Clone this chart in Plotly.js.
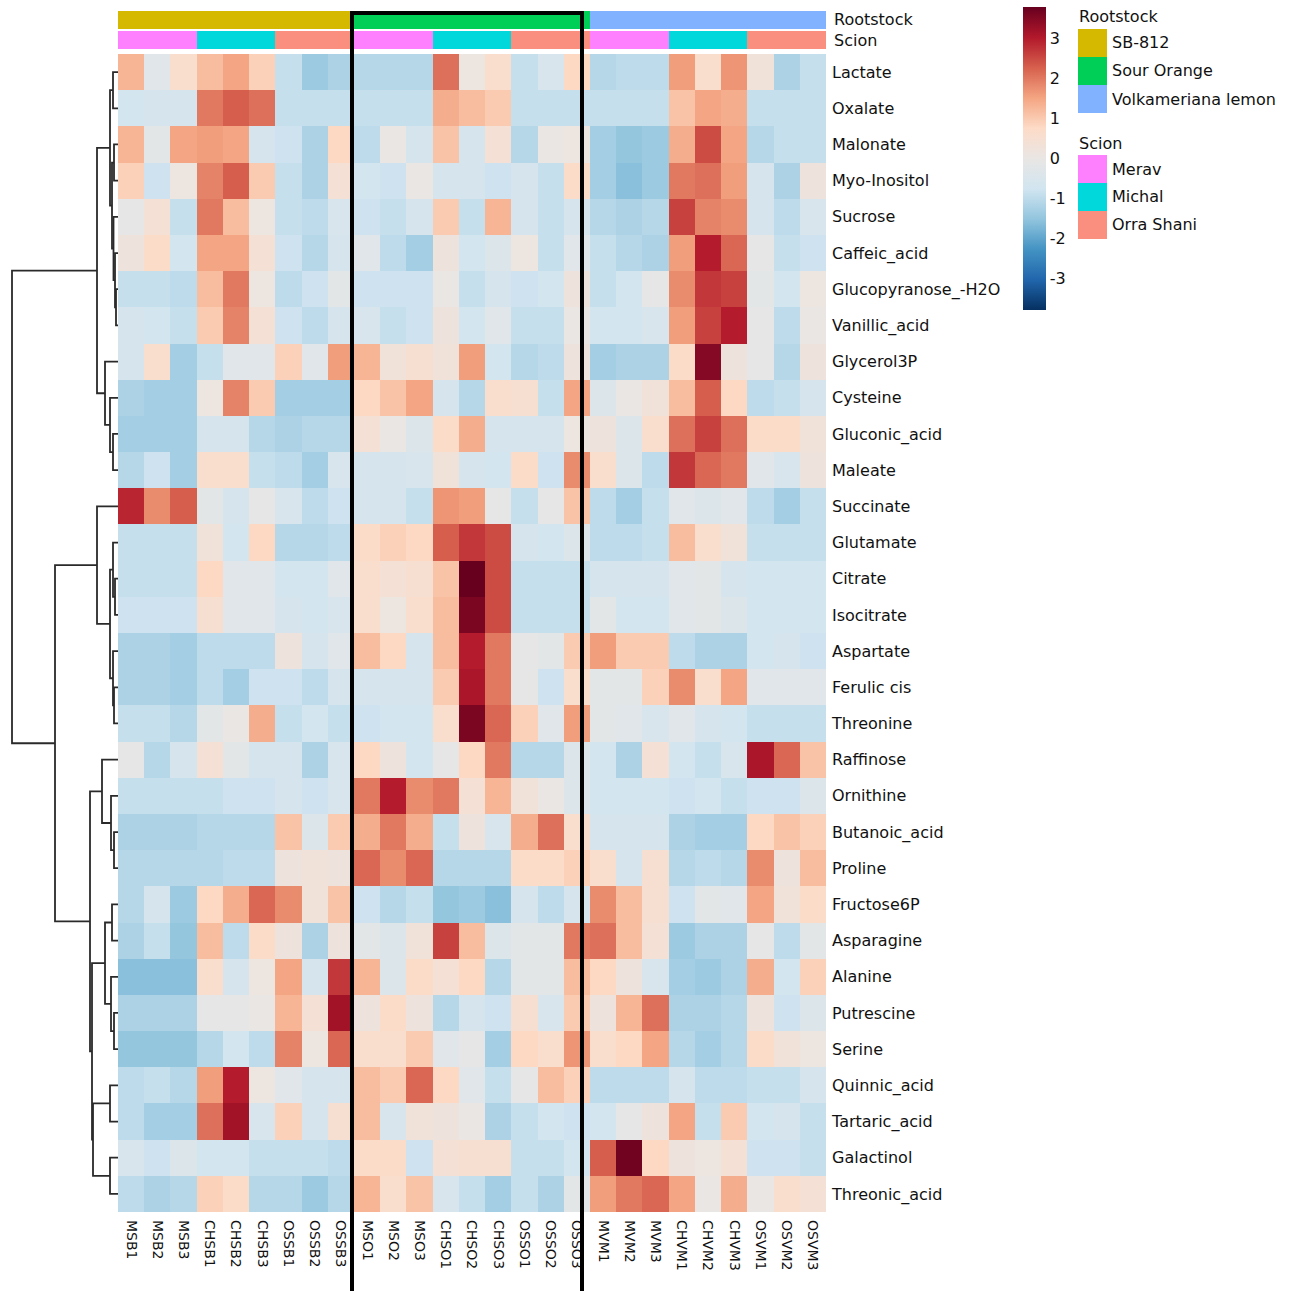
<!DOCTYPE html>
<html><head><meta charset="utf-8">
<script src="https://cdn.plot.ly/plotly-3.0.1.min.js"></script>
<style>html,body{margin:0;padding:0;background:#fff}#c{width:1298px;height:1291px}</style>
</head><body><div id="c"></div>
<script>
// ---------- data ----------
const samples = ['MSB1','MSB2','MSB3','CHSB1','CHSB2','CHSB3','OSSB1','OSSB2','OSSB3',
  'MSO1','MSO2','MSO3','CHSO1','CHSO2','CHSO3','OSSO1','OSSO2','OSSO3',
  'MVM1','MVM2','MVM3','CHVM1','CHVM2','CHVM3','OSVM1','OSVM2','OSVM3'];
const rootstockLevels = ['SB-812','Sour Orange','Volkameriana lemon'];
const rootstockColors = ['#d4b900','#00cf57','#80b2ff'];
const scionLevels = ['Merav','Michal','Orra Shani'];
const scionColors = ['#ff80ff','#00d8dc','#fa8f80'];
const sampleRootstock = [0,0,0,0,0,0,0,0,0, 1,1,1,1,1,1,1,1,1, 2,2,2,2,2,2,2,2,2];
const sampleScion = [0,0,0,1,1,1,2,2,2, 0,0,0,1,1,1,2,2,2, 0,0,0,1,1,1,2,2,2];

const metabolites = ['Lactate','Oxalate','Malonate','Myo-Inositol','Sucrose','Caffeic_acid',
  'Glucopyranose_-H2O','Vanillic_acid','Glycerol3P','Cysteine','Gluconic_acid','Maleate',
  'Succinate','Glutamate','Citrate','Isocitrate','Aspartate','Ferulic cis','Threonine',
  'Raffinose','Ornithine','Butanoic_acid','Proline','Fructose6P','Asparagine','Alanine',
  'Putrescine','Serine','Quinnic_acid','Tartaric_acid','Galactinol','Threonic_acid'];

const zLactate    = [1.3,-0.3,0.6,1.2,1.5,0.9,-0.9,-1.4,-1.2, -1.1,-1.1,-1.1,2.1,0.1,0.6,-0.9,-0.5,0.8, -1.1,-1.0,-1.0,1.6,0.6,1.7,0.3,-1.2,-0.9];
const zOxalate    = [-0.7,-0.6,-0.6,2.0,2.3,2.1,-0.9,-0.9,-0.9, -0.9,-0.9,-0.9,1.4,1.2,1.0,-0.9,-0.9,-0.9, -0.9,-0.9,-0.9,1.1,1.5,1.4,-0.9,-0.9,-0.9];
const zMalonate   = [1.3,-0.2,1.5,1.6,1.5,-0.6,-0.8,-1.2,0.8, -1.0,0.0,-0.6,1.1,-0.6,0.4,-1.1,0.0,0.1, -1.3,-1.5,-1.4,1.4,2.5,1.5,-1.1,-0.9,-0.9];
const zMyo        = [0.9,-0.8,0.1,1.9,2.3,1.0,-0.9,-1.2,0.4, -0.7,-0.8,0.0,-0.6,-0.6,-0.8,-0.6,-0.9,0.7, -1.3,-1.6,-1.4,2.0,2.1,1.6,-0.6,-1.2,0.2];
const zSucrose    = [-0.1,0.4,-0.9,2.0,1.2,0.1,-0.9,-1.0,-0.5, -0.8,-0.9,-0.6,1.0,-0.9,1.3,-0.6,-0.9,-0.6, -1.1,-1.2,-1.1,2.6,1.9,1.8,-0.6,-1.0,-0.5];
const zCaffeic    = [0.2,0.7,-0.7,1.5,1.5,0.4,-0.8,-1.1,-0.6, -0.3,-1.0,-1.3,0.2,-0.7,-0.4,0.1,-0.9,-0.3, -0.9,-1.1,-1.2,1.6,3.0,2.2,-0.1,-0.9,-0.8];
const zGluco      = [-0.9,-0.9,-1.0,1.2,2.0,0.1,-1.0,-0.8,-0.2, -0.8,-0.8,-0.8,0.0,-0.9,-0.6,-0.8,-0.7,0.2, -0.9,-0.7,-0.1,1.8,2.7,2.6,-0.2,-0.7,0.1];
const zVanillic   = [-0.6,-0.7,-0.9,1.0,1.9,0.4,-0.8,-1.0,-0.6, -0.5,-0.9,-0.8,0.2,-0.7,-0.3,-0.9,-0.9,0.0, -0.7,-0.7,-0.5,1.6,2.6,3.0,-0.1,-1.0,0.0];
const zGlycerol3P = [-0.6,0.6,-1.3,-0.9,-0.3,-0.3,0.9,-0.3,1.6, 1.3,0.3,0.5,0.3,1.6,-0.7,-1.1,-1.0,0.2, -1.3,-1.2,-1.2,0.7,3.5,0.2,-0.1,-1.1,0.2];
const zCysteine   = [-1.2,-1.3,-1.3,0.1,1.9,1.0,-1.3,-1.3,-1.3, 0.8,1.1,1.5,-0.6,-1.1,0.6,0.5,-0.9,1.5, -0.4,0.0,0.3,1.2,2.3,0.8,-1.0,-0.9,-0.6];
const zGluconic   = [-1.3,-1.3,-1.3,-0.6,-0.6,-1.1,-1.2,-1.1,-1.1, 0.4,0.0,-0.4,0.7,1.4,-0.6,-0.6,-0.6,0.1, 0.2,-0.4,0.6,2.1,2.6,2.1,0.7,0.7,0.3];
const zMaleate    = [-1.1,-0.8,-1.3,0.6,0.6,-0.9,-1.0,-1.3,-0.5, -0.6,-0.6,-0.5,0.3,-0.6,-0.7,0.7,-0.8,1.8, 0.6,-0.4,-1.0,2.7,2.2,2.0,-0.3,-0.5,0.2];
const zSuccinate  = [2.9,1.8,2.3,-0.2,-0.6,-0.1,-0.5,-1.0,-0.8, -0.6,-0.6,-0.9,1.7,1.6,-0.1,-0.9,-0.1,1.1, -1.0,-1.3,-0.9,-0.3,-0.4,-0.3,-1.0,-1.3,-0.9];
const zGlutamate  = [-0.9,-0.9,-0.9,0.3,-0.7,0.8,-1.1,-1.1,-1.0, 0.7,0.9,0.8,2.3,2.7,2.5,-0.6,-0.7,-0.4, -1.0,-1.0,-0.9,1.2,0.6,0.3,-0.9,-0.9,-0.9];
const zCitrate    = [-0.9,-0.9,-0.9,0.8,-0.3,-0.3,-0.7,-0.7,-0.3, 0.6,0.4,0.5,1.1,3.8,2.5,-0.9,-0.9,-0.9, -0.6,-0.6,-0.6,-0.3,-0.2,-0.6,-0.7,-0.7,-0.7];
const zIsocitrate = [-0.8,-0.8,-0.8,0.5,-0.3,-0.3,-0.6,-0.7,-0.5, 0.6,0.1,0.6,1.2,3.6,2.5,-0.9,-0.9,-0.9, -0.2,-0.7,-0.7,-0.3,-0.2,-0.4,-0.7,-0.7,-0.7];
const zAspartate  = [-1.2,-1.2,-1.3,-1.0,-1.0,-1.0,0.2,-0.6,-0.3, 1.2,0.8,-0.6,1.2,3.0,2.0,-0.1,-0.2,1.0, 1.6,1.0,1.0,-1.0,-1.2,-1.2,-0.7,-0.6,-0.8];
const zFerulic    = [-1.2,-1.2,-1.3,-1.0,-1.3,-0.8,-0.8,-1.0,-0.6, -0.6,-0.6,-0.6,1.0,3.1,2.0,-0.1,-0.8,0.6, -0.2,-0.2,0.9,1.8,0.6,1.5,-0.3,-0.3,-0.3];
const zThreonine  = [-0.9,-0.9,-1.1,-0.2,0.0,1.4,-0.9,-0.7,-0.9, -0.8,-0.7,-0.7,0.6,3.6,2.2,0.9,-0.3,1.6, -0.2,-0.3,-0.5,-0.3,-0.6,-0.7,-0.9,-0.9,-0.9];
const zRaffinose  = [-0.1,-1.1,-0.6,0.4,-0.2,-0.6,-0.6,-1.2,-0.5, 0.8,0.2,-0.7,-0.1,0.8,2.0,-1.1,-1.1,-0.4, -0.7,-1.2,0.4,-0.7,-0.9,-0.5,3.1,2.2,1.1];
const zOrnithine  = [-0.9,-0.9,-0.9,-0.9,-0.8,-0.8,-0.6,-0.8,-0.5, 2.0,3.0,1.8,2.0,0.4,1.3,0.3,0.0,-0.4, -0.7,-0.7,-0.7,-0.8,-0.7,-0.9,-0.8,-0.8,-0.4];
const zButanoic   = [-1.2,-1.2,-1.2,-1.1,-1.1,-1.1,1.1,-0.4,1.0, 1.4,2.0,1.4,-0.9,0.2,-0.5,1.4,2.1,0.6, -0.6,-0.6,-0.6,-1.2,-1.3,-1.3,0.8,1.1,0.9];
const zProline    = [-1.1,-1.1,-1.1,-1.1,-1.0,-1.0,0.2,0.3,0.2, 2.2,1.8,2.2,-1.1,-1.1,-1.1,0.7,0.7,0.9, 0.6,-0.6,0.5,-1.1,-1.0,-1.1,1.8,0.2,1.2];
const zFructose6P = [-1.1,-0.6,-1.4,0.8,1.4,2.2,1.8,0.3,1.1, -0.8,-1.1,-0.9,-1.5,-1.4,-1.6,-0.6,-1.0,-0.6, 1.8,1.2,0.5,-0.8,-0.2,-0.3,1.5,0.3,0.7];
const zAsparagine = [-1.2,-0.9,-1.5,1.2,-1.0,0.7,0.2,-1.2,0.2, -0.2,-0.4,0.3,2.6,1.2,-0.4,-0.2,-0.2,2.0, 2.1,1.2,0.4,-1.4,-1.2,-1.2,-0.1,-1.0,-0.2];
const zAlanine    = [-1.6,-1.6,-1.6,0.6,-0.6,0.1,1.5,-0.6,2.7, 1.3,-0.4,0.7,0.4,0.8,-1.1,-0.2,-0.2,1.2, 0.8,0.2,-0.5,-1.3,-1.4,-1.2,1.4,-0.7,0.9];
const zPutrescine = [-1.2,-1.2,-1.2,-0.1,-0.1,0.0,1.3,0.4,3.2, 0.2,0.7,0.2,-1.1,-0.6,-0.8,0.5,-0.5,1.0, 0.2,1.3,2.1,-1.2,-1.2,-1.1,0.2,-0.8,-0.4];
const zSerine     = [-1.5,-1.5,-1.5,-1.1,-0.7,-1.0,1.9,0.1,2.2, 0.6,0.6,1.0,-0.3,-0.1,-1.3,0.8,0.6,1.7, 0.6,0.8,1.5,-1.1,-1.3,-1.1,0.7,0.3,0.1];
const zQuinnic    = [-1.0,-0.9,-1.1,1.6,3.0,0.1,-0.3,-0.6,-0.6, 1.2,1.0,2.2,0.8,-0.3,-0.9,-0.1,1.2,0.9, -1.0,-1.0,-1.0,-0.6,-1.0,-1.0,-0.9,-0.9,-0.6];
const zTartaric   = [-1.0,-1.3,-1.3,2.1,3.2,-0.5,0.9,-0.6,0.5, 1.2,-0.5,0.3,0.2,0.0,-1.2,-0.9,-0.7,-0.8, -0.7,-0.1,0.2,1.5,-0.9,1.0,-0.7,-0.6,-0.9];
const zGalactinol = [-0.5,-0.8,-0.4,-0.7,-0.7,-0.9,-0.9,-0.9,-1.0, 0.7,0.7,-0.8,0.4,0.5,0.5,-0.9,-0.9,-0.7, 2.3,3.7,0.8,0.2,0.1,0.4,-0.8,-0.8,-0.9];
const zThreonic   = [-1.0,-1.2,-1.1,0.9,0.7,-1.1,-1.1,-1.4,-1.1, 1.3,0.6,1.1,-0.5,-0.9,-1.3,-0.9,-1.2,-0.2, 1.6,2.0,2.2,1.5,0.0,1.4,0.0,0.6,0.4];

// row clustering (hclust style: negative = leaf row number, positive = earlier merge)
const mergeA = [-1,-3,-7,-6,-5, 2, 1,-11,-10,-9, 7,-15,-14,-18,-17,13,-13,-22,-21,-20,-24,-27,-26,21,-29,-31,25,24,20,17,11];
const mergeB = [-2,-4,-8, 3, 4, 5, 6,-12,  8, 9,10,-16, 12,-19, 14,15, 16,-23, 18, 19,-25,-28, 22,23,-30,-32,26,27,28,29,30];
const mergeH = [0.5,0.4,0.2,0.3,0.45,0.6,0.8,0.5,0.8,1.3,2.1,0.3,0.5,0.4,0.5,0.8,2.1,0.4,0.7,1.6,0.6,0.4,0.7,1.3,0.8,0.8,2.5,2.6,2.8,6.3,10.6];

// ---------- build ----------
const W = 1298, H = 1291;
const px = v => v / W;
const py = v => 1 - v / H;

const Z = [zLactate,zOxalate,zMalonate,zMyo,zSucrose,zCaffeic,zGluco,zVanillic,zGlycerol3P,
  zCysteine,zGluconic,zMaleate,zSuccinate,zGlutamate,zCitrate,zIsocitrate,zAspartate,zFerulic,
  zThreonine,zRaffinose,zOrnithine,zButanoic,zProline,zFructose6P,zAsparagine,zAlanine,
  zPutrescine,zSerine,zQuinnic,zTartaric,zGalactinol,zThreonic];

const colIdx = samples.map((s, i) => i);
const rowIdx = metabolites.map((m, i) => i);

const rdbu = ['#053061','#2166ac','#4393c3','#92c5de','#d1e5f0','#e9e6e4','#fddbc7','#f4a582','#d6604d','#b2182b','#67001f'];
const cs = rdbu.map((c, i) => [i / (rdbu.length - 1), c]);

function discrete(colors) {
  const n = colors.length, out = [];
  colors.forEach((c, i) => { out.push([i / n, c]); out.push([(i + 1) / n, c]); });
  return out;
}

// dendrogram segments
const pos = [], ht = [];
const nd = id => id < 0 ? { y: -id - 1, h: 0 } : { y: pos[id - 1], h: ht[id - 1] };
const dx = [], dy = [];
for (let k = 0; k < mergeA.length; k++) {
  const a = nd(mergeA[k]), b = nd(mergeB[k]), h = mergeH[k];
  dx.push(a.h, h, h, b.h, null);
  dy.push(a.y, a.y, b.y, b.y, null);
  pos[k] = (a.y + b.y) / 2; ht[k] = h;
}
const rootH = Math.max(...mergeH);

const traces = [
  {
    type: 'heatmap', x: colIdx, y: rowIdx, z: Z, xaxis: 'x', yaxis: 'y',
    colorscale: cs, zmin: -3.8, zmax: 3.8, hoverinfo: 'skip',
    colorbar: {
      x: px(1023), xanchor: 'left', xref: 'paper', y: py(7), yanchor: 'top', yref: 'paper',
      lenmode: 'pixels', len: 303, thicknessmode: 'pixels', thickness: 23,
      outlinewidth: 0, xpad: 0, ypad: 0, ticks: '', ticklabelposition: 'outside',
      tickvals: [-3,-2,-1,0,1,2,3], ticktext: ['-3','-2','-1','0','1','2','3'],
      tickfont: { family: 'DejaVu Sans', size: 16, color: '#111' }
    }
  },
  {
    type: 'heatmap', x: colIdx, y: [0], z: [sampleRootstock], xaxis: 'x', yaxis: 'y2',
    colorscale: discrete(rootstockColors), zmin: -0.5, zmax: rootstockLevels.length - 0.5,
    showscale: false, hoverinfo: 'skip'
  },
  {
    type: 'heatmap', x: colIdx, y: [0], z: [sampleScion], xaxis: 'x', yaxis: 'y3',
    colorscale: discrete(scionColors), zmin: -0.5, zmax: scionLevels.length - 0.5,
    showscale: false, hoverinfo: 'skip'
  },
  {
    type: 'scatter', mode: 'lines', x: dx, y: dy, xaxis: 'x2', yaxis: 'y',
    line: { color: '#2a2a2a', width: 1.8 }, hoverinfo: 'skip', connectgaps: false
  }
];

const font = { family: 'DejaVu Sans', size: 16, color: '#111' };
const shapes = [];
const annotations = [];

// annotation-bar labels
annotations.push({ xref: 'paper', yref: 'paper', x: px(832), y: py(20), xanchor: 'left', yanchor: 'middle', text: 'Rootstock', showarrow: false, font });
annotations.push({ xref: 'paper', yref: 'paper', x: px(832), y: py(40), xanchor: 'left', yanchor: 'middle', text: 'Scion', showarrow: false, font });

// legends
function legendBlock(title, levels, colors, titleY, startY) {
  annotations.push({ xref: 'paper', yref: 'paper', x: px(1077), y: py(titleY), xanchor: 'left', yanchor: 'middle', text: title, showarrow: false, font });
  const step = 28;
  levels.forEach((lv, i) => {
    const y0 = startY + i * step, y1 = y0 + step;
    shapes.push({ type: 'rect', xref: 'paper', yref: 'paper', x0: px(1078), x1: px(1107), y0: py(y0), y1: py(y1), fillcolor: colors[i], line: { width: 0 } });
    annotations.push({ xref: 'paper', yref: 'paper', x: px(1110), y: py((y0 + y1) / 2), xanchor: 'left', yanchor: 'middle', text: lv, showarrow: false, font });
  });
}
legendBlock('Rootstock', rootstockLevels, rootstockColors, 16, 29);
legendBlock('Scion', scionLevels, scionColors, 143, 155);

// highlight box around Sour Orange samples
shapes.push({ type: 'rect', xref: 'paper', yref: 'paper', x0: px(352), x1: px(582), y0: py(13), y1: py(1300), line: { color: '#000', width: 4 }, fillcolor: 'rgba(0,0,0,0)', layer: 'above' });

const layout = {
  width: W, height: H, margin: { l: 0, r: 0, t: 0, b: 0 },
  paper_bgcolor: '#fff', plot_bgcolor: '#fff', showlegend: false,
  font: { family: 'DejaVu Sans', color: '#111' },
  xaxis: {
    domain: [px(118), px(826)], range: [-0.5, samples.length - 0.5], anchor: 'y',
    tickvals: colIdx, ticktext: samples, tickangle: 90, ticks: '', showgrid: false, zeroline: false,
    showline: false, tickfont: { family: 'DejaVu Sans', size: 14, color: '#111' }, ticklabelstandoff: 7
  },
  yaxis: {
    domain: [py(1212), py(54)], range: [metabolites.length - 0.5, -0.5], anchor: 'x', side: 'right',
    tickvals: rowIdx, ticktext: metabolites, ticks: '', showgrid: false, zeroline: false, showline: false,
    tickfont: font, ticklabelstandoff: 5
  },
  yaxis2: { domain: [py(29), py(11)], range: [-0.5, 0.5], anchor: 'x', visible: false },
  yaxis3: { domain: [py(49), py(31)], range: [-0.5, 0.5], anchor: 'x', visible: false },
  xaxis2: {
    domain: [px(2), px(118)], range: [rootH * 116 / 106, 0], anchor: 'y', visible: false,
    showgrid: false, zeroline: false
  },
  shapes, annotations
};

Plotly.newPlot('c', traces, layout, { staticPlot: true, displayModeBar: false });
</script></body></html>
